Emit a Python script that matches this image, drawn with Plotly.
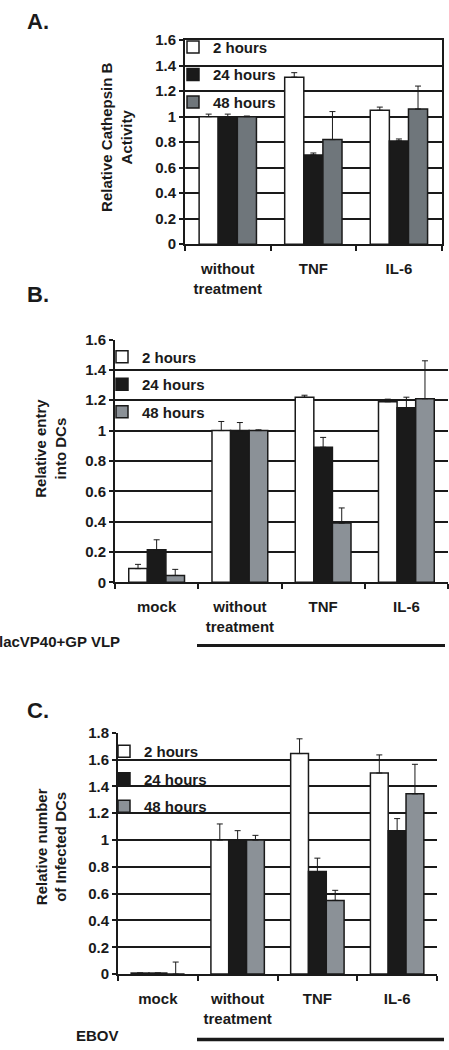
import plotly.graph_objects as go

series = ["2 hours", "24 hours", "48 hours"]

# Panel A
cats_a = ["without<br>treatment", "TNF", "IL-6"]
a_2h = [1.00, 1.31, 1.05]
a_24h = [1.00, 0.70, 0.81]
a_48h = [1.00, 0.82, 1.06]
a_2h_err = [0.02, 0.035, 0.025]
a_24h_err = [0.02, 0.015, 0.015]
a_48h_err = [0.005, 0.22, 0.18]

# Panel B
cats_b = ["mock", "without<br>treatment", "TNF", "IL-6"]
b_2h = [0.09, 1.00, 1.22, 1.19]
b_24h = [0.215, 1.00, 0.89, 1.15]
b_48h = [0.045, 1.00, 0.39, 1.21]
b_2h_err = [0.028, 0.06, 0.013, 0.017]
b_24h_err = [0.065, 0.053, 0.065, 0.07]
b_48h_err = [0.04, 0.005, 0.10, 0.25]

# Panel C
cats_c = ["mock", "without<br>treatment", "TNF", "IL-6"]
c_2h = [0.008, 1.00, 1.645, 1.50]
c_24h = [0.008, 1.00, 0.765, 1.07]
c_48h = [0.0, 1.00, 0.55, 1.345]
c_2h_err = [0.0, 0.12, 0.11, 0.135]
c_24h_err = [0.0, 0.07, 0.10, 0.09]
c_48h_err = [0.09, 0.035, 0.075, 0.22]

FONT = "Liberation Sans, Arial, sans-serif"
BLACK = "#1a1a1a"

fig = go.Figure()


def add_panel(cats, vals, errs, colors, xa, ya, legend, grp):
    for i, (name, v, e, col) in enumerate(zip(series, vals, errs, colors)):
        fig.add_trace(go.Bar(
            x=cats, y=v, name=name, xaxis=xa, yaxis=ya,
            marker=dict(color=col, line=dict(color=BLACK, width=1.5)),
            error_y=dict(type="data", symmetric=False, array=e,
                         arrayminus=[0] * len(e), color=BLACK,
                         thickness=1, width=3),
            legend=legend, legendgroup=f"{grp}{i}", showlegend=True,
        ))


add_panel(cats_a, [a_2h, a_24h, a_48h], [a_2h_err, a_24h_err, a_48h_err],
          ["#ffffff", BLACK, "#6f767b"], "x", "y", "legend", "A")
add_panel(cats_b, [b_2h, b_24h, b_48h], [b_2h_err, b_24h_err, b_48h_err],
          ["#ffffff", BLACK, "#8b9197"], "x2", "y2", "legend2", "B")
add_panel(cats_c, [c_2h, c_24h, c_48h], [c_2h_err, c_24h_err, c_48h_err],
          ["#ffffff", BLACK, "#8b9197"], "x3", "y3", "legend3", "C")

W, H = 449, 1050


def px_x(v):
    return v / W


def px_y(v):
    return 1 - v / H


tickfont = dict(family=FONT, size=15, color=BLACK, weight="bold")


def xaxis(domain, anchor):
    return dict(domain=domain, anchor=anchor, showline=True, linecolor=BLACK,
                linewidth=2, ticks="outside", tickson="boundaries", ticklen=5,
                tickwidth=2, tickcolor=BLACK, tickfont=tickfont,
                ticklabelstandoff=10, showgrid=False, fixedrange=True)


def yaxis(domain, anchor, rng, mirror=False):
    return dict(domain=domain, anchor=anchor, range=rng, dtick=0.2,
                showline=True, linecolor=BLACK, linewidth=2, mirror=mirror,
                ticks="outside", ticklen=4, tickwidth=1.5, tickcolor=BLACK,
                tickfont=tickfont, showgrid=True, gridcolor=BLACK,
                gridwidth=1.5, zeroline=False, fixedrange=True)


def legend_cfg(x, y):
    return dict(x=px_x(x), y=px_y(y), xanchor="left", yanchor="top",
                bgcolor="rgba(0,0,0,0)", font=dict(family=FONT, size=15,
                                                   color=BLACK, weight="bold"),
                tracegroupgap=5, itemwidth=30, traceorder="grouped")


fig.update_layout(
    width=W, height=H, margin=dict(l=0, r=0, t=0, b=0),
    paper_bgcolor="white", plot_bgcolor="white",
    barmode="group", bargap=0.33, bargroupgap=0,
    font=dict(family=FONT, color=BLACK),
    xaxis=xaxis([px_x(185), px_x(441.7)], "y"),
    yaxis=yaxis([px_y(239), px_y(31.7)], "x", [0, 1.6], mirror=True),
    xaxis2=xaxis([px_x(115), px_x(448)], "y2"),
    yaxis2=yaxis([px_y(582.7), px_y(336)], "x2", [0, 1.6]),
    xaxis3=xaxis([px_x(118), px_x(437)], "y3"),
    yaxis3=yaxis([px_y(981), px_y(735.7)], "x3", [0, 1.8]),
    legend=legend_cfg(173, 22),
    legend2=legend_cfg(102, 337),
    legend3=legend_cfg(104, 738),
    showlegend=True,
)
fig.layout.xaxis.mirror = True

ann = []
lab = dict(family=FONT, size=22, color=BLACK, weight="bold")
for t, y in [("A.", 13), ("B.", 290), ("C.", 713)]:
    ann.append(dict(text=t, x=px_x(25), y=px_y(y), xref="paper", yref="paper",
                    xanchor="left", yanchor="middle", showarrow=False, font=lab))

ttl = dict(family=FONT, size=15, color=BLACK, weight="bold")
for t, x, y in [("Relative Cathepsin B<br>Activity", 117, 130),
                ("Relative entry<br>into DCs", 51, 447),
                ("Relative number<br>of Infected DCs", 51, 852)]:
    ann.append(dict(text=t, x=px_x(x), y=px_y(y), xref="paper", yref="paper",
                    xanchor="center", yanchor="middle", textangle=-90,
                    showarrow=False, font=ttl))

for t, x, y in [("lacVP40+GP VLP", -3, 643), ("EBOV", 74, 1043)]:
    ann.append(dict(text=t, x=px_x(x), y=px_y(y), xref="paper", yref="paper",
                    xanchor="left", yanchor="middle", showarrow=False, font=ttl))
fig.update_layout(annotations=ann)

fig.add_shape(type="line", xref="paper", yref="paper", x0=px_x(197), x1=px_x(445),
              y0=px_y(647), y1=px_y(647), line=dict(color=BLACK, width=3))
fig.add_shape(type="line", xref="paper", yref="paper", x0=px_x(197), x1=px_x(444),
              y0=px_y(1047.5), y1=px_y(1047.5), line=dict(color=BLACK, width=3.5))

fig.write_html("out.html", config={"displayModeBar": False},
               post_script="document.documentElement.style.margin='0';"
                           "document.documentElement.style.padding='0';"
                           "document.body.style.margin='0';"
                           "document.body.style.padding='0';")
